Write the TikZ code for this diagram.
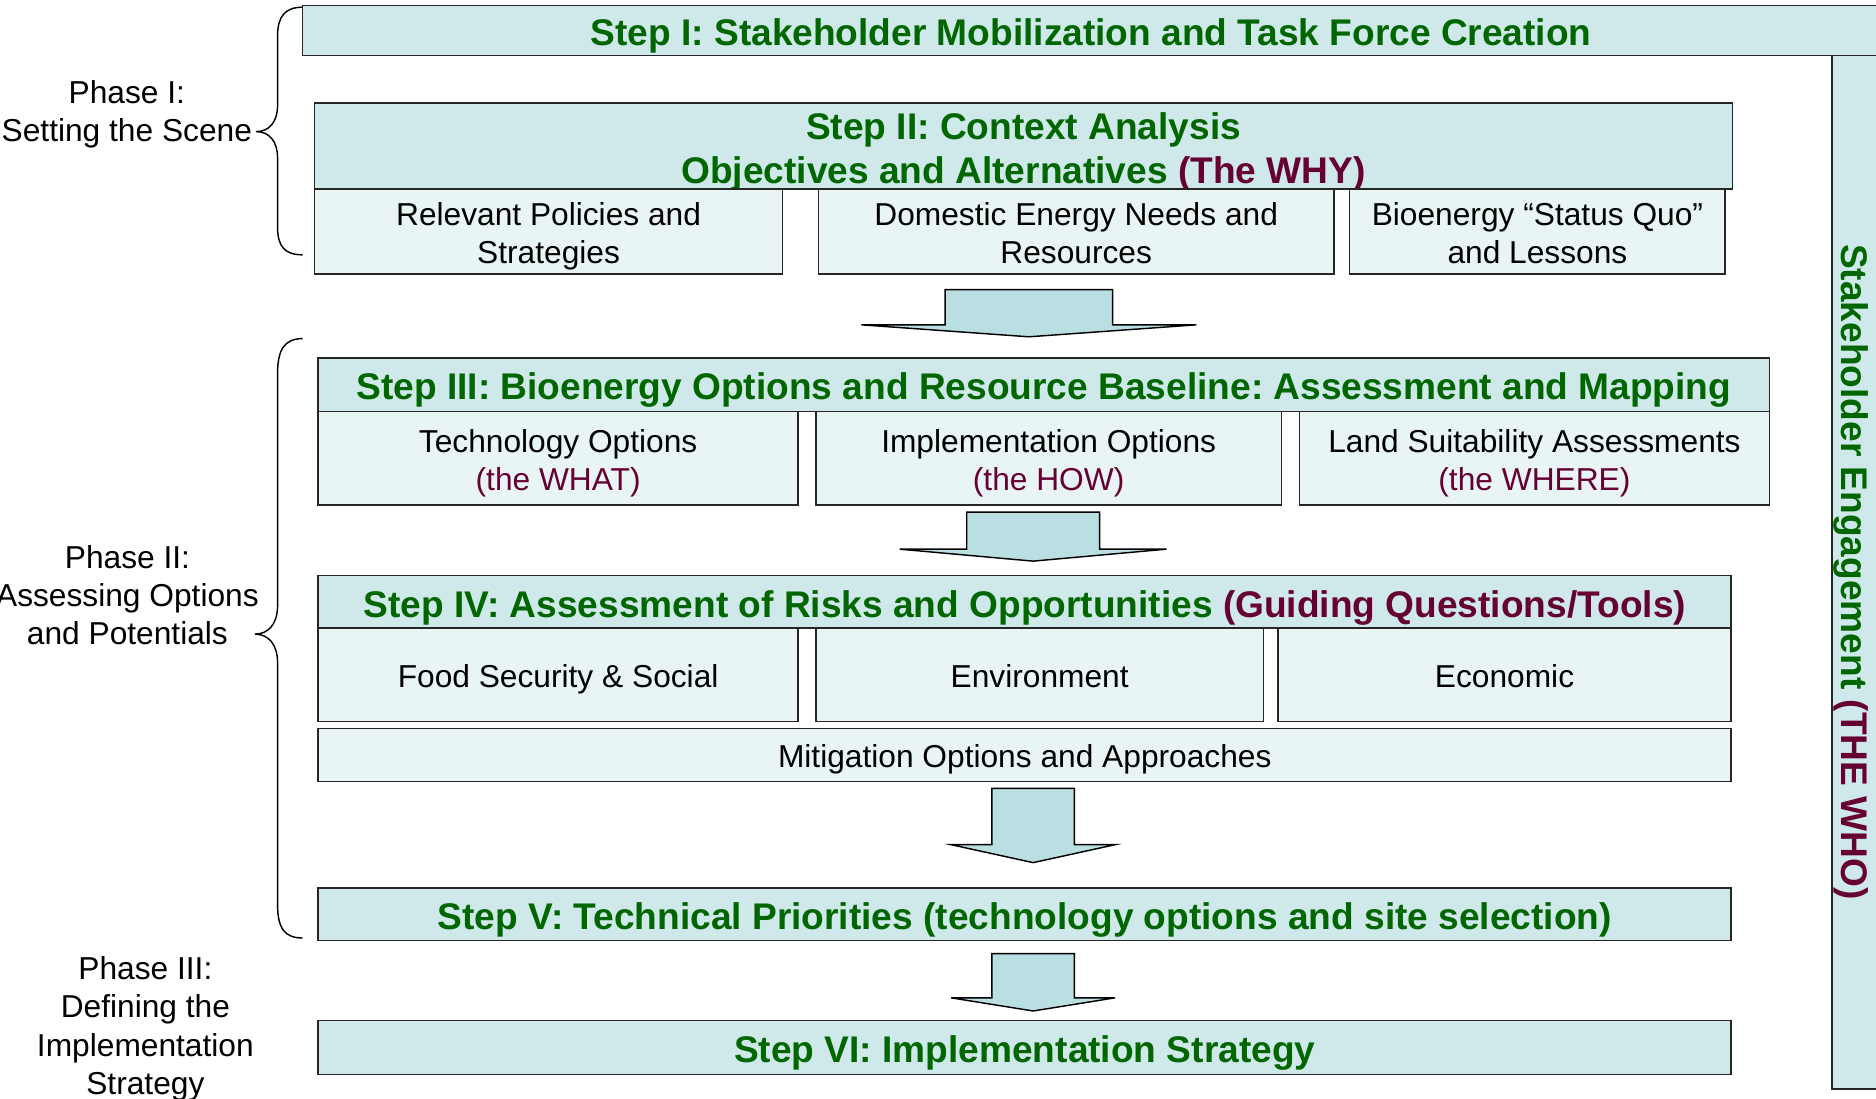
\documentclass[tikz,border=0pt]{standalone}
\usepackage{fontspec}
\setmainfont{Liberation Sans}
\frenchspacing
\definecolor{hdr}{HTML}{CFE8EA}
\definecolor{subc}{HTML}{E9F5F5}
\definecolor{arrc}{HTML}{BADFE2}
\definecolor{grn}{HTML}{006600}
\definecolor{mar}{HTML}{660033}
\newcommand{\blockarr}[7]{%
  \coordinate (#1) at (#2,#5);
  \draw[barr] ({#2-#6},#3) -- ({#2+#6},#3) -- ({#2+#6},#4) -- ({#2+#7},#4) -- (#1) -- ({#2-#7},#4) -- ({#2-#6},#4) -- cycle;}
\begin{document}
\begin{tikzpicture}[x=1pt,y=-1pt,
  struts/.style={execute at begin node={\rule{0pt}{1.08em}}, execute at end node={\rule[-0.26em]{0pt}{0.26em}}},
  mlsub/.style={execute at begin node={\rule{0pt}{\dimexpr 32pt+1.08em\relax}}},
  hbox/.style={draw=black!85, line width=1.3pt, fill=hdr, inner sep=0pt, text=grn, align=center,
    font=\bfseries\fontsize{31}{37}\selectfont, struts},
  sbox/.style={draw=black!85, line width=1.3pt, fill=subc, inner sep=0pt, align=center,
    font=\fontsize{26.5}{32}\selectfont, struts},
  ptext/.style={align=center, inner sep=0pt, font=\fontsize{26.5}{32}\selectfont},
  barr/.style={draw=black, line width=1.2pt, fill=arrc, line join=miter},
  brace/.style={draw=black, line width=1.2pt}]
\useasboundingbox (0,0) rectangle (1568,918);
\fill[white] (0,0) rectangle (1568,918);

% right vertical bar and Step I
\node[hbox, rotate=-90, minimum width=864pt, minimum height=40pt] (bar) at (1552,478)
  {Stakeholder Engagement \textcolor{mar}{(THE WHO)}};
\node[hbox, minimum width=1318pt, minimum height=41pt] (s1) at (912,25.5)
  {Step I: Stakeholder Mobilization and Task Force Creation};

% Step II
\node[hbox, text height=66pt, text depth=3.5pt, minimum width=1185pt, minimum height=72pt] (s2h) at (855.5,122)
  {Step II: Context Analysis\\Objectives and Alternatives \textcolor{mar}{(The WHY)}};
\node[sbox, mlsub, minimum width=391pt, minimum height=71pt] (s2a) at (458.5,193.5)
  {Relevant Policies and\\Strategies};
\node[sbox, mlsub, minimum width=431pt, minimum height=71pt] (s2b) at (899.5,193.5)
  {Domestic Energy Needs and\\Resources};
\node[sbox, mlsub, minimum width=314pt, minimum height=71pt] (s2c) at (1285,193.5)
  {Bioenergy “Status Quo”\\and Lessons};

\blockarr{a1}{860}{242}{271.5}{281.5}{70}{140}

% Step III
\node[hbox, minimum width=1213pt, minimum height=45pt] (s3h) at (872.5,321.5)
  {Step III: Bioenergy Options and Resource Baseline: Assessment and Mapping};
\node[sbox, mlsub, minimum width=401pt, minimum height=78pt] (s3a) at (466.5,383)
  {Technology Options\\\textcolor{mar}{(the WHAT)}};
\node[sbox, mlsub, minimum width=389pt, minimum height=78pt] (s3b) at (876.5,383)
  {Implementation Options\\\textcolor{mar}{(the HOW)}};
\node[sbox, mlsub, minimum width=393pt, minimum height=78pt] (s3c) at (1282.5,383)
  {Land Suitability Assessments\\\textcolor{mar}{(the WHERE)}};

\blockarr{a2}{863.5}{428}{459}{469}{55.5}{111.5}

% Step IV
\node[hbox, minimum width=1181pt, minimum height=44pt] (s4h) at (856.5,503)
  {Step IV: Assessment of Risks and Opportunities \textcolor{mar}{(Guiding Questions/Tools)}};
\node[sbox, minimum width=401pt, minimum height=78pt] (s4a) at (466.5,564)
  {Food Security \& Social};
\node[sbox, minimum width=374pt, minimum height=78pt] (s4b) at (869,564)
  {Environment};
\node[sbox, minimum width=379pt, minimum height=78pt] (s4c) at (1257.5,564)
  {Economic};
\node[sbox, minimum width=1181pt, minimum height=44pt] (mit) at (856.5,631)
  {Mitigation Options and Approaches};

\blockarr{a3}{863.5}{659}{706}{721}{34.5}{68.5}

% Step V
\node[hbox, minimum width=1181pt, minimum height=44pt] (s5) at (856.5,764)
  {Step V: Technical Priorities (technology options and site selection)};

\blockarr{a4}{863.5}{797}{834}{845}{34.5}{68.5}

% Step VI
\node[hbox, minimum width=1181pt, minimum height=45pt] (s6) at (856.5,875.5)
  {Step VI: Implementation Strategy};

% braces
\draw[brace] (253,6) .. controls (238,6) and (232,14) .. (232,30) -- (232,88)
  .. controls (232,102) and (225,110) .. (214,110)
  .. controls (225,110) and (232,118) .. (232,132) -- (232,190)
  .. controls (232,206) and (238,213) .. (253,213);
\draw[brace] (253,283) .. controls (238,283) and (232,292) .. (232,312) -- (232,506)
  .. controls (232,522) and (224,530) .. (213,530)
  .. controls (224,530) and (232,538) .. (232,554) -- (232,756)
  .. controls (232,776) and (238,784) .. (253,784);

% phase labels
\node[ptext] (ph1) at (106,95.5) {Phase I:\\Setting the Scene};
\node[ptext] (ph2) at (106.5,497.5) {Phase II:\\Assessing Options\\and Potentials};
\node[ptext] (ph3) at (121.5,860) {Phase III:\\Defining the\\Implementation\\Strategy};
\end{tikzpicture}
\end{document}
